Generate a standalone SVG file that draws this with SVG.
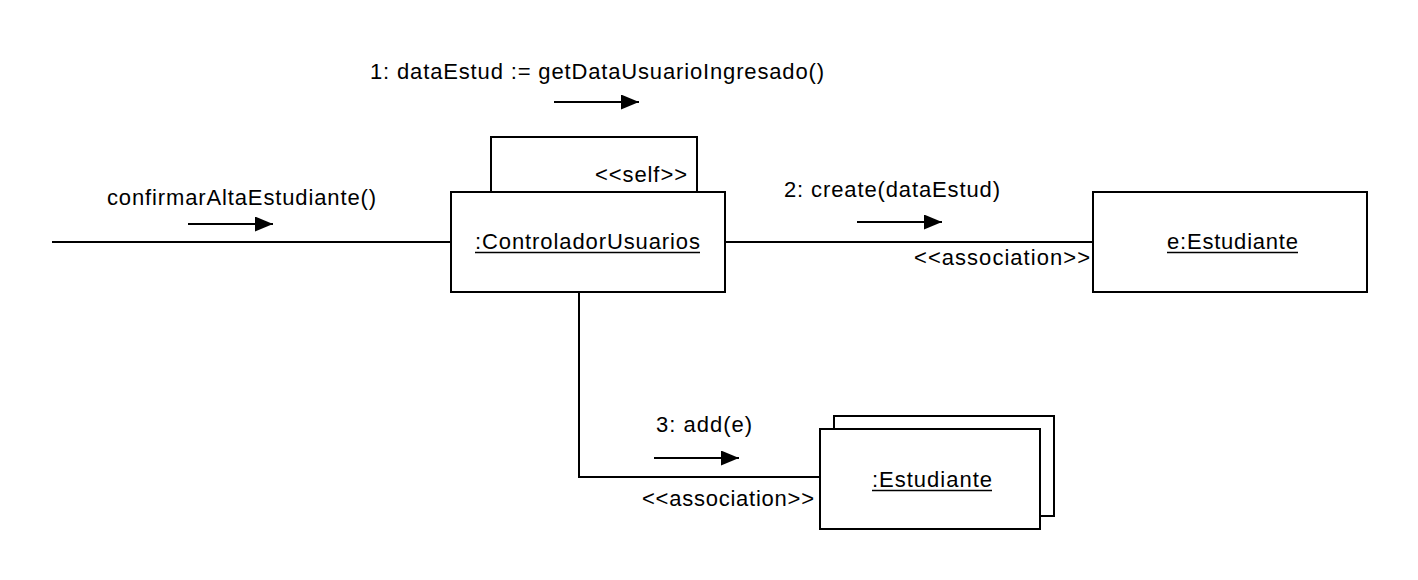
<svg xmlns="http://www.w3.org/2000/svg" width="1418" height="580" viewBox="0 0 1418 580">
  <defs>
    <style>
      .box { fill: #ffffff; stroke: #000000; stroke-width: 2; }
      .conn { fill: none; stroke: #000000; stroke-width: 2; }
      .msg { fill: none; stroke: #000000; stroke-width: 2; marker-end: url(#tri); }
      .ul { stroke: #000000; stroke-width: 1.5; }
      text { font-family: "Liberation Sans", Arial, Helvetica, sans-serif; font-size: 22px; fill: #000000; }
    </style>
    <marker id="tri" markerUnits="userSpaceOnUse" markerWidth="20" markerHeight="16" refX="18" refY="7.5" orient="auto">
      <path d="M0,0 L18,7.5 L0,15 Z" fill="#000000"/>
    </marker>
  </defs>
  <rect width="1418" height="580" fill="#ffffff"/>

  <g id="connectors">
    <line class="conn" x1="52" y1="242" x2="451" y2="242"/>
    <line class="conn" x1="725" y1="242" x2="1093" y2="242"/>
    <polyline class="conn" points="579,292 579,477 820,477"/>
    <line class="msg" x1="188" y1="224" x2="273" y2="224"/>
    <line class="msg" x1="554" y1="102" x2="639" y2="102"/>
    <line class="msg" x1="857" y1="222" x2="942" y2="222"/>
    <line class="msg" x1="654" y1="458" x2="739" y2="458"/>
    <text x="107" y="205" textLength="269" lengthAdjust="spacing">confirmarAltaEstudiante()</text>
    <text x="370" y="79" textLength="454" lengthAdjust="spacing">1: dataEstud := getDataUsuarioIngresado()</text>
    <text x="784" y="197" textLength="216" lengthAdjust="spacing">2: create(dataEstud)</text>
    <text x="914" y="265" textLength="176" lengthAdjust="spacing">&lt;&lt;association&gt;&gt;</text>
    <text x="656" y="432" textLength="96" lengthAdjust="spacing">3: add(e)</text>
    <text x="642" y="506" textLength="172" lengthAdjust="spacing">&lt;&lt;association&gt;&gt;</text>
  </g>

  <g id="self-loop">
    <rect class="box" x="491" y="137" width="206" height="55"/>
    <text x="595" y="182" textLength="92" lengthAdjust="spacing">&lt;&lt;self&gt;&gt;</text>
  </g>

  <g id="controlador">
    <rect class="box" x="451" y="192" width="274" height="100"/>
    <text x="475" y="249" textLength="225" lengthAdjust="spacing">:ControladorUsuarios</text>
    <line class="ul" x1="475" y1="252.5" x2="700" y2="252.5"/>
  </g>

  <g id="e-estudiante">
    <rect class="box" x="1093" y="192" width="274" height="100"/>
    <text x="1167" y="249" textLength="131" lengthAdjust="spacing">e:Estudiante</text>
    <line class="ul" x1="1167" y1="252.5" x2="1298" y2="252.5"/>
  </g>

  <g id="estudiantes">
    <rect class="box" x="834" y="416" width="220" height="100"/>
    <rect class="box" x="820" y="429" width="220" height="100"/>
    <text x="872" y="487" textLength="120" lengthAdjust="spacing">:Estudiante</text>
    <line class="ul" x1="872" y1="490.5" x2="992" y2="490.5"/>
  </g>
</svg>
